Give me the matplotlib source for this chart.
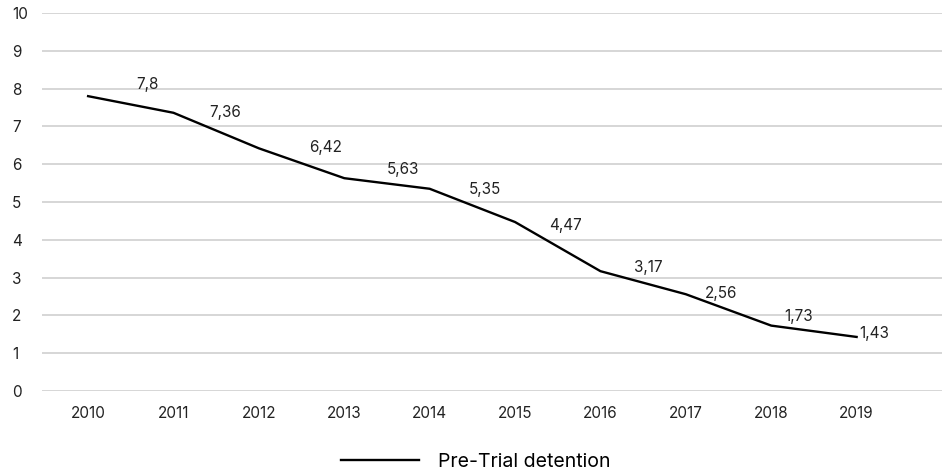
import matplotlib
matplotlib.use("Agg")
import matplotlib.pyplot as plt
from matplotlib.lines import Line2D

years = ["2010", "2011", "2012", "2013", "2014", "2015", "2016", "2017", "2018", "2019"]
detention = [7.8, 7.36, 6.42, 5.63, 5.35, 4.47, 3.17, 2.56, 1.73, 1.43]
series_name = "Pre-Trial detention"
y_ticks = list(range(0, 11))

plt.rcParams["font.family"] = ["Inter", "DejaVu Sans"]

fig = plt.figure(figsize=(9.42, 4.73), dpi=100)
ax = fig.add_axes([42 / 942, 1 - 391 / 473, 900 / 942, 378 / 473])

xs = list(range(len(years)))
ax.plot(xs, detention, color="black", linewidth=1.7, solid_joinstyle="round", zorder=3)

# value labels sit above and to the right of each point
label_dx = [0.69, 0.61, 0.78, 0.69, 0.65, 0.59, 0.56, 0.41, 0.32, 0.21]
label_dy = [0.30, 0.02, 0.01, 0.22, -0.01, -0.08, 0.11, 0.01, 0.23, 0.08]
for x, v, dx, dy in zip(xs, detention, label_dx, label_dy):
    ax.text(x + dx, v + dy, f"{v:g}".replace(".", ","), ha="center", va="center",
            fontsize=11, color="#222222", zorder=4)

ax.set_xlim(-0.54, 10.0)
ax.set_ylim(0, 10)
ax.set_yticks(y_ticks)
ax.set_xticks(xs)
ax.set_xticklabels(years)
ax.tick_params(axis="both", length=0, labelsize=11, colors="#222222")
ax.tick_params(axis="y", pad=21.6)
ax.tick_params(axis="x", pad=11)
for lbl in ax.get_yticklabels():
    lbl.set_horizontalalignment("left")
ax.grid(axis="y", color="#cfcfcf", linewidth=1.2)
ax.set_axisbelow(True)
for s in ax.spines.values():
    s.set_visible(False)

handle = Line2D([], [], color="black", linewidth=1.7)
fig.legend([handle], [series_name], loc="center", bbox_to_anchor=(0.505, 1 - 462 / 473),
           frameon=False, fontsize=14, handlelength=4.0, handletextpad=0.95)

fig.savefig("out.png", dpi=100)
